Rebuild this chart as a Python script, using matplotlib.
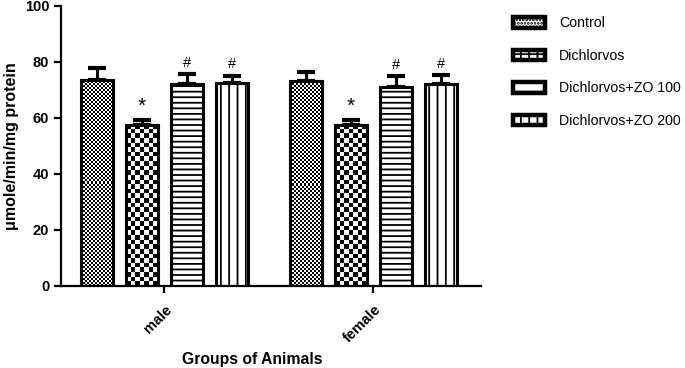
import numpy as np
import matplotlib
matplotlib.use("Agg")
import matplotlib.pyplot as plt
import matplotlib.patches as patches

plt.rcParams['font.family'] = ['Liberation Sans', 'DejaVu Sans']

groups = ['male', 'female']
series = ['Control', 'Dichlorvos', 'Dichlorvos+ZO 100', 'Dichlorvos+ZO 200']
means = {
    'Control': [73.6, 73.2],
    'Dichlorvos': [57.6, 57.5],
    'Dichlorvos+ZO 100': [72.1, 71.1],
    'Dichlorvos+ZO 200': [72.5, 72.1],
}
errs = {
    'Control': [4.3, 3.2],
    'Dichlorvos': [1.6, 1.8],
    'Dichlorvos+ZO 100': [3.6, 3.9],
    'Dichlorvos+ZO 200': [2.6, 3.2],
}
marks = {
    'Control': ['', ''],
    'Dichlorvos': ['*', '*'],
    'Dichlorvos+ZO 100': ['#', '#'],
    'Dichlorvos+ZO 200': ['#', '#'],
}

fig = plt.figure(figsize=(6.85, 3.68), dpi=100)
ax = fig.add_axes([0.089, 0.223, 0.613, 0.761])
ax.set_xlim(-0.495, 1.514)
ax.set_ylim(0, 100)

x = np.arange(len(groups))
width = 0.153
step = 0.215
lw = 2.2
# checker image fill (cell size in px) or hatch string
styles = [('checker', 2.0), ('checker', 4.6), ('---', None), ('||', None)]

def checker_fill(bar, cell_px):
    # pixel size of bar to decide checker cell count
    p0 = ax.transData.transform((bar.get_x(), 0))
    p1 = ax.transData.transform((bar.get_x() + bar.get_width(), bar.get_height()))
    wpx = abs(p1[0] - p0[0])
    hpx = abs(p1[1] - p0[1])
    nc = max(1, int(round(wpx / cell_px)))
    nr = max(1, int(round(hpx / cell_px)))
    ii, jj = np.indices((nr, nc))
    img = ((ii + jj) % 2).astype(float)
    im = ax.imshow(img, cmap='gray', vmin=0, vmax=1, interpolation='nearest',
                   extent=(bar.get_x(), bar.get_x() + bar.get_width(), 0, bar.get_height()),
                   aspect='auto', zorder=2.5)
    im.set_clip_path(bar)

plt.rcParams['hatch.linewidth'] = 1.3
for i, s in enumerate(series):
    pos = x + (i - 1.5) * step
    kind, cell = styles[i]
    hatch = None if kind == 'checker' else kind
    bars = ax.bar(pos, means[s], width, facecolor='white', edgecolor='black',
                  linewidth=lw, hatch=hatch, zorder=2)
    for b in bars:
        if kind == 'checker':
            checker_fill(b, cell)
            # outline again on top of the image
            ax.add_patch(patches.Rectangle((b.get_x(), 0), b.get_width(), b.get_height(),
                                           facecolor='none', edgecolor='black', linewidth=lw, zorder=3))
    ax.errorbar(pos, means[s], yerr=[np.zeros(len(groups)), errs[s]], fmt='none',
                ecolor='black', elinewidth=2.2, capsize=6.5, capthick=3, zorder=1)
    for j in range(len(groups)):
        if marks[s][j]:
            fs = 15 if marks[s][j] == '*' else 10.5
            ax.annotate(marks[s][j], (pos[j], means[s][j] + errs[s][j]),
                        xytext=(0, 3), textcoords='offset points',
                        ha='center', va='bottom', fontsize=fs)

ax.spines['top'].set_visible(False)
ax.spines['right'].set_visible(False)
ax.spines['left'].set_linewidth(1.6)
ax.spines['bottom'].set_linewidth(1.6)
ax.tick_params(width=1.6, length=5)
ax.tick_params(axis='x', pad=7)
ax.set_yticks(np.arange(0, 101, 20))
ax.set_xticks(x)
ax.set_xticklabels(groups, rotation=45, ha='right', rotation_mode='anchor',
                   fontsize=10.5, fontweight='bold')
for t in ax.get_yticklabels():
    t.set_fontweight('bold')
    t.set_fontsize(10.5)
ax.set_ylabel('μmole/min/mg protein', fontsize=11.5, fontweight='bold', labelpad=4)
ax.set_xlabel('Groups of Animals', fontsize=11.3, fontweight='bold')
ax.xaxis.set_label_coords(0.455, -0.235)

leg_hatch = ['.....', '++', '-', '||']
handles = [patches.Patch(facecolor='white', edgecolor='black', linewidth=3.2, hatch=h)
           for h in leg_hatch]
fig.legend(handles, series, loc='upper left', bbox_to_anchor=(0.731, 0.99),
           frameon=False, fontsize=10.2, handlelength=2.2, handleheight=0.75,
           labelspacing=1.3, handletextpad=1.0, borderpad=0.4)

fig.savefig('out.png', dpi=100)
